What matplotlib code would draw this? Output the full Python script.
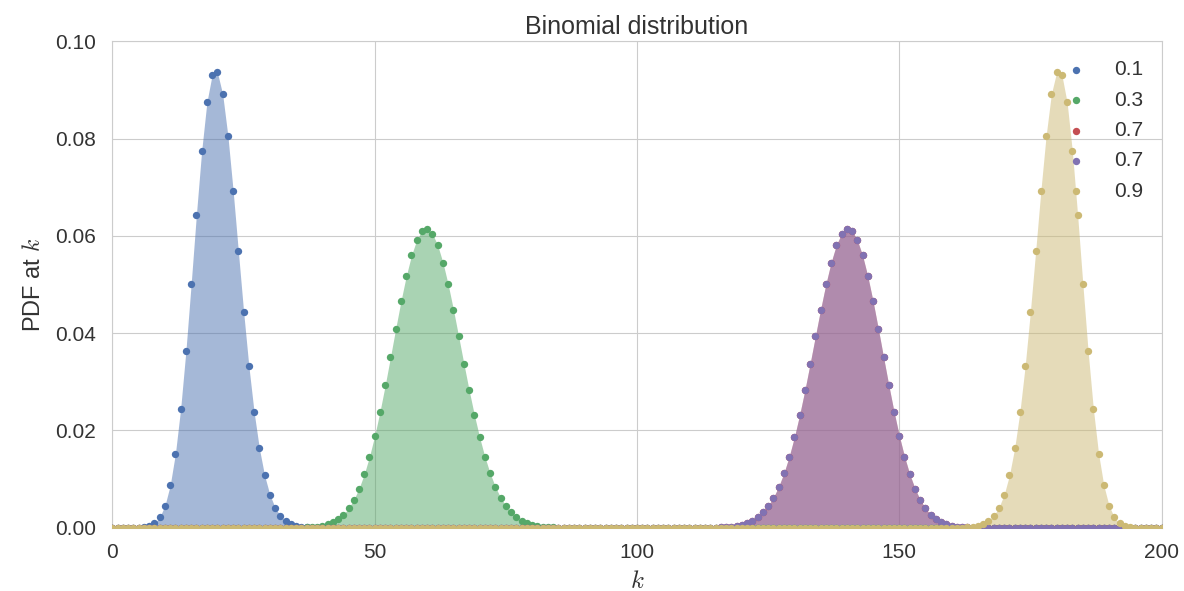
import math
import numpy as np
import matplotlib
matplotlib.use("Agg")
import matplotlib.pyplot as plt
import seaborn as sns

sns.set_style("whitegrid")
plt.rcParams['font.family'] = ['Liberation Sans', 'DejaVu Sans']
plt.rcParams['mathtext.fontset'] = 'cm'

# Binomial parameters: number of trials and success probabilities
n_trials = 200
probabilities = [0.1, 0.3, 0.7, 0.7, 0.9]
labels = ["0.1", "0.3", "0.7", "0.7", "0.9"]
colors = ["#4C72B0", "#55A868", "#C44E52", "#8172B2", "#CCB974"]

k = np.arange(n_trials + 1)


def binom_pmf(kvals, n, p):
    return np.array([math.comb(n, int(kk)) * p**kk * (1 - p)**(n - kk) for kk in kvals])


fig, ax = plt.subplots(figsize=(11.84, 5.91), dpi=100)
fig.subplots_adjust(left=0.095, right=0.981, top=0.93, bottom=0.107)

for p, lab, c in zip(probabilities, labels, colors):
    pmf = binom_pmf(k, n_trials, p)
    ax.scatter(k, pmf, s=28, color=c, label=lab, zorder=3, linewidths=0)
    ax.fill_between(k, pmf, color=c, alpha=0.5, linewidth=0)

ax.set_xlim(0, 200)
ax.set_ylim(0, 0.1)
ax.set_xticks([0, 50, 100, 150, 200])
ax.set_yticks([0.0, 0.02, 0.04, 0.06, 0.08, 0.10])
ax.set_yticklabels(["0.00", "0.02", "0.04", "0.06", "0.08", "0.10"])
ax.tick_params(labelsize=15, colors="#333333")
ax.tick_params(axis="y", pad=8.5)
ax.tick_params(axis="x", pad=7.5)
ax.set_title("Binomial distribution", fontsize=18, color="#333333", pad=5)
ax.set_xlabel("$k$", fontsize=18, color="#333333", labelpad=5)
ax.set_ylabel("PDF at $k$", fontsize=17, color="#333333", labelpad=7)
leg = ax.legend(loc="upper right", frameon=False, fontsize=15, scatterpoints=1,
                handletextpad=0.8, labelspacing=0.55, borderaxespad=0.5,
                handlelength=2.0)
for t in leg.get_texts():
    t.set_color("#333333")

fig.savefig("out.png", dpi=100)
